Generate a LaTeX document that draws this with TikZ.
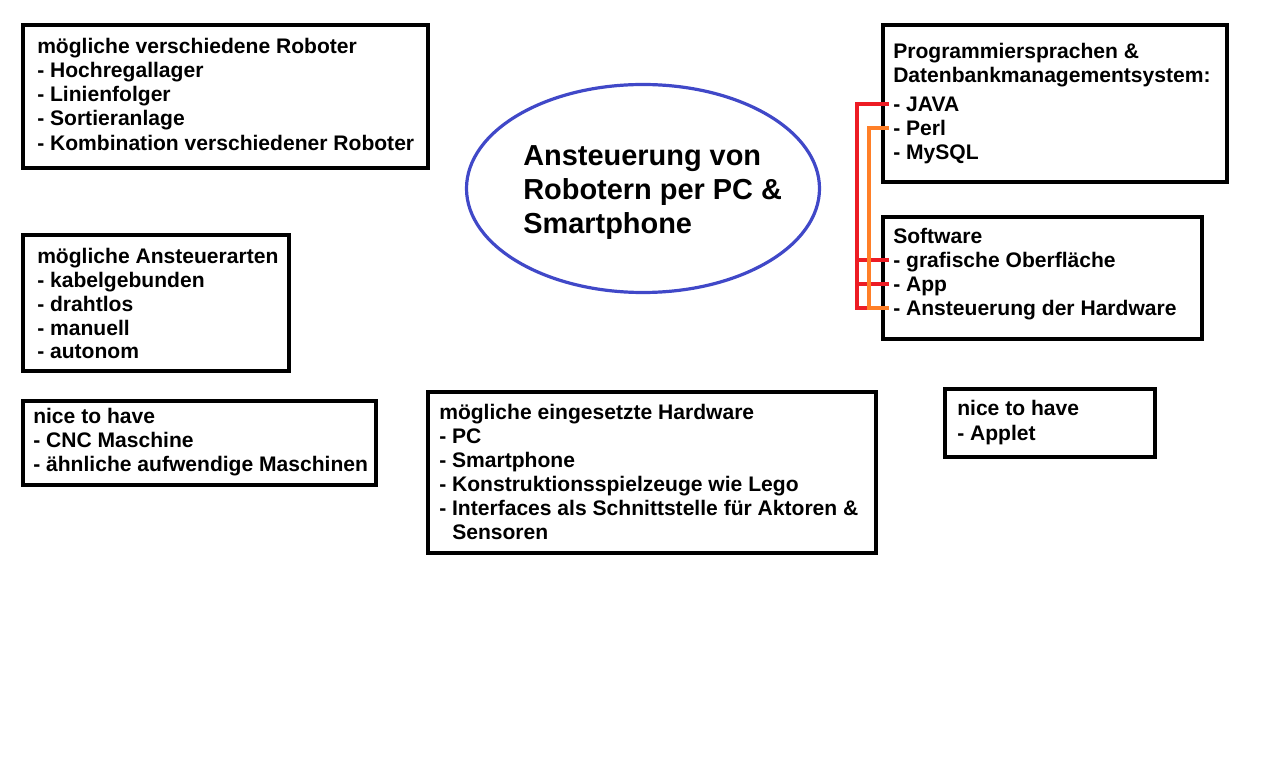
\documentclass[tikz,border=0pt]{standalone}
\usepackage{fontspec}
\setmainfont{Liberation Sans}
\usetikzlibrary{shapes.geometric}
\definecolor{ellblue}{RGB}{64,72,200}
\definecolor{conred}{RGB}{237,28,36}
\definecolor{conorange}{RGB}{255,127,39}
\tikzset{
  box/.style={draw=black, line width=3pt, rectangle, inner sep=0pt},
  txt/.style={anchor=west, inner sep=0pt, font=\bfseries\fontsize{15.8}{19}\selectfont, text height=11.3pt, text depth=0pt},
  ttl/.style={anchor=west, inner sep=0pt, font=\bfseries\fontsize{21.7}{26}\selectfont, text height=15.5pt, text depth=0pt},
  conn/.style={line width=2.4pt},
}
\begin{document}
\begin{tikzpicture}[x=0.75pt,y=-0.75pt]
\useasboundingbox[fill=white] (0,0) rectangle (1274,766);
% boxes
\node[box, minimum width={405*0.75pt}, minimum height={143*0.75pt}] (b1) at (225.5,96.5) {};
\node[box, minimum width={266*0.75pt}, minimum height={136*0.75pt}] (b2) at (156,303) {};
\node[box, minimum width={353*0.75pt}, minimum height={84*0.75pt}] (b3) at (199.5,443) {};
\node[box, minimum width={448*0.75pt}, minimum height={161*0.75pt}] (b4) at (652,472.5) {};
\node[box, minimum width={344*0.75pt}, minimum height={157*0.75pt}] (b5) at (1055,103.5) {};
\node[box, minimum width={319*0.75pt}, minimum height={122*0.75pt}] (b6) at (1042.5,278) {};
\node[box, minimum width={210*0.75pt}, minimum height={68*0.75pt}] (b7) at (1050,423) {};
% central ellipse
\node[ellipse, draw=ellblue, line width=2.4pt, minimum width={353*0.75pt}, minimum height={208*0.75pt}, inner sep=0pt] (ell) at (643,188.5) {};
\node[ttl] (t1) at (523,155) {Ansteuerung von};
\node[ttl] (t2) at (523,189) {Robotern per PC \&};
\node[ttl] (t3) at (523,223) {Smartphone};
% box 1
\node[txt] (a1) at (37,46) {mögliche verschiedene Roboter};
\node[txt] (a2) at (37,70) {- Hochregallager};
\node[txt] (a3) at (37,94) {- Linienfolger};
\node[txt] (a4) at (37,118) {- Sortieranlage};
\node[txt] (a5) at (37,143) {- Kombination verschiedener Roboter};
% box 2
\node[txt] (c1) at (37,256) {mögliche Ansteuerarten};
\node[txt] (c2) at (37,280) {- kabelgebunden};
\node[txt] (c3) at (37,304) {- drahtlos};
\node[txt] (c4) at (37,328) {- manuell};
\node[txt] (c5) at (37,351) {- autonom};
% box 3
\node[txt] (d1) at (33,416) {nice to have};
\node[txt] (d2) at (33,440) {- CNC Maschine};
\node[txt] (d3) at (33,464) {- ähnliche aufwendige Maschinen};
% box 4
\node[txt] (e1) at (439,412) {mögliche eingesetzte Hardware};
\node[txt] (e2) at (439,436) {- PC};
\node[txt] (e3) at (439,460) {- Smartphone};
\node[txt] (e4) at (439,484) {- Konstruktionsspielzeuge wie Lego};
\node[txt] (e5) at (439,508) {- Interfaces als Schnittstelle für Aktoren \&};
\node[txt] (e6) at (452,532) {Sensoren};
% box 5
\node[txt] (f1) at (893,51) {Programmiersprachen \&};
\node[txt] (f2) at (893,75) {Datenbankmanagementsystem:};
\node[txt] (java) at (893,104) {- JAVA};
\node[txt] (perl) at (893,128) {- Perl};
\node[txt] (mysql) at (893,152) {- MySQL};
% box 6
\node[txt] (g1) at (893,236) {Software};
\node[txt] (graf) at (893,260) {- grafische Oberfläche};
\node[txt] (app) at (893,284) {- App};
\node[txt] (hw) at (893,308) {- Ansteuerung der Hardware};
% box 7
\node[txt] (h1) at (957,408) {nice to have};
\node[txt] (h2) at (957,433) {- Applet};
% connectors
\coordinate (rx) at (857,0);
\coordinate (ox) at (869,0);
\draw[conn, conred, shorten >=3pt] (java.west -| rx) -- (java.west);
\draw[conn, conred, shorten >=3pt] (graf.west -| rx) -- (graf.west);
\draw[conn, conred, shorten >=3pt] (app.west -| rx) -- (app.west);
\draw[conn, conred, shorten >=3pt] (hw.west -| rx) -- (hw.west);
\draw[conn, conred, line cap=rect] (java.west -| rx) -- (hw.west -| rx);
\draw[conn, conorange, shorten >=3pt] (perl.west -| ox) -- (perl.west);
\draw[conn, conorange, shorten >=3pt] (hw.west -| ox) -- (hw.west);
\draw[conn, conorange, line cap=rect] (perl.west -| ox) -- (hw.west -| ox);
\end{tikzpicture}
\end{document}
